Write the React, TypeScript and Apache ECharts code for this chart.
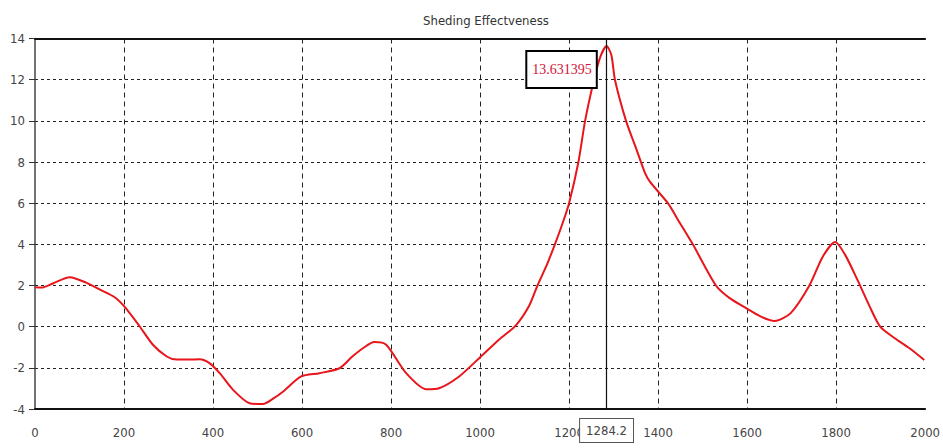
import React, { useEffect, useRef } from "react";
import * as echarts from "echarts";

const titleText = "Sheding Effectveness";
const frequency = [0, 15, 40, 78, 116, 146, 179, 202, 235, 265, 296, 318, 345, 370, 392, 415, 445, 482, 512, 535, 557, 598, 639, 684, 713, 740, 762, 789, 834, 879, 908, 953, 998, 1043, 1080, 1110, 1129, 1150, 1169, 1185, 1200, 1221, 1236, 1256, 1270, 1284.2, 1295, 1303, 1328, 1350, 1370, 1382, 1422, 1450, 1478, 1530, 1560, 1597, 1630, 1662, 1698, 1740, 1770, 1798, 1820, 1848, 1875, 1899, 1931, 1965, 1998];
const effectiveness = [1.92, 1.9, 2.1, 2.4, 2.13, 1.8, 1.43, 0.95, 0.02, -0.88, -1.45, -1.6, -1.6, -1.58, -1.77, -2.26, -3.07, -3.72, -3.76, -3.5, -3.16, -2.42, -2.26, -2.02, -1.45, -1.0, -0.75, -0.88, -2.26, -3.04, -2.99, -2.42, -1.53, -0.62, 0.05, 1.0, 2, 3, 4.05, 5, 6, 8, 10, 12, 13.1, 13.631395, 13.2, 12, 10, 8.7, 7.5, 7.03, 6, 5.0, 4, 2, 1.4, 0.91, 0.5, 0.28, 0.66, 2, 3.4, 4.11, 3.5, 2.27, 1.0, 0, -0.55, -1.05, -1.62];
const cursorX = 1284.2;
const cursorY = 13.631395;

const labelFont = '"Liberation Sans Narrow", "DejaVu Sans Condensed", "Liberation Sans", sans-serif';

export default function App() {
  const ref = useRef<HTMLDivElement>(null);
  useEffect(() => {
    if (!ref.current) return;
    const chart = echarts.init(ref.current, undefined, { renderer: "svg" });
    const data = frequency.map((f, i) => [f, effectiveness[i]]);
    chart.setOption({
      animation: false,
      backgroundColor: "#ffffff",
      title: {
        text: titleText,
        left: 481,
        top: 9,
        textAlign: "center",
        textStyle: { fontFamily: labelFont, fontSize: 13, fontWeight: "normal", color: "#333" },
      },
      grid: { left: 35, right: 15, top: 38.5, bottom: 39, containLabel: false },
      xAxis: [
        {
          type: "value",
          min: 0,
          max: 2000,
          interval: 200,
          axisLine: { show: true, onZero: false, lineStyle: { color: "#111", width: 2 } },
          axisTick: { show: false },
          axisLabel: {
            fontFamily: labelFont,
            fontSize: 13,
            color: "#444",
            margin: 17,
            formatter: (v: number) => String(v),
          },
          splitLine: {
            show: true,
            showMinLine: false,
            showMaxLine: false,
            lineStyle: { color: "#222", width: 1, type: [5, 4] },
          },
        },
        {
          type: "value",
          position: "top",
          min: 0,
          max: 2000,
          axisLine: { show: true, onZero: false, lineStyle: { color: "#111", width: 2 } },
          axisTick: { show: false },
          axisLabel: { show: false },
          splitLine: { show: false },
        },
      ],
      yAxis: {
        type: "value",
        min: -4,
        max: 14,
        interval: 2,
        axisLine: { show: true, onZero: false, lineStyle: { color: "#444", width: 1.5 } },
        axisTick: { show: true, length: 6, lineStyle: { color: "#333" } },
        axisLabel: { fontFamily: labelFont, fontSize: 13, color: "#444", margin: 10 },
        splitLine: {
          show: true,
          showMinLine: false,
          showMaxLine: false,
          lineStyle: { color: "#222", width: 1, type: [3, 3] },
        },
      },
      series: [
        {
          type: "line",
          data,
          smooth: 0.25,
          symbol: "none",
          lineStyle: { color: "#e8151b", width: 2 },
          markLine: {
            silent: true,
            symbol: ["none", "none"],
            lineStyle: { color: "#111", width: 1.2, type: "solid" },
            label: {
              show: true,
              position: "start",
              distance: 10,
              formatter: String(cursorX),
              fontFamily: labelFont,
              fontSize: 13,
              color: "#444",
              backgroundColor: "#fff",
              borderColor: "#555",
              borderWidth: 1,
              padding: [5, 6],
            },
            data: [{ xAxis: cursorX }],
          },
          markPoint: {
            silent: true,
            symbol: "circle",
            symbolSize: 0,
            data: [{ coord: [cursorX, cursorY], value: cursorY }],
            label: {
              show: true,
              position: "inside",
              offset: [-45, 23.5],
              formatter: String(cursorY),
              fontFamily: '"Liberation Serif", "DejaVu Serif", serif',
              fontSize: 14,
              color: "#d2143a",
              backgroundColor: "#fff",
              borderColor: "#000",
              borderWidth: 2,
              padding: [11, 4, 10, 5],
            },
          },
        },
      ],
    });
    return () => chart.dispose();
  }, []);
  return (
    <div
      ref={ref}
      style={{ position: "fixed", left: 0, top: 0, width: 943, height: 448, background: "#fff" }}
    />
  );
}
